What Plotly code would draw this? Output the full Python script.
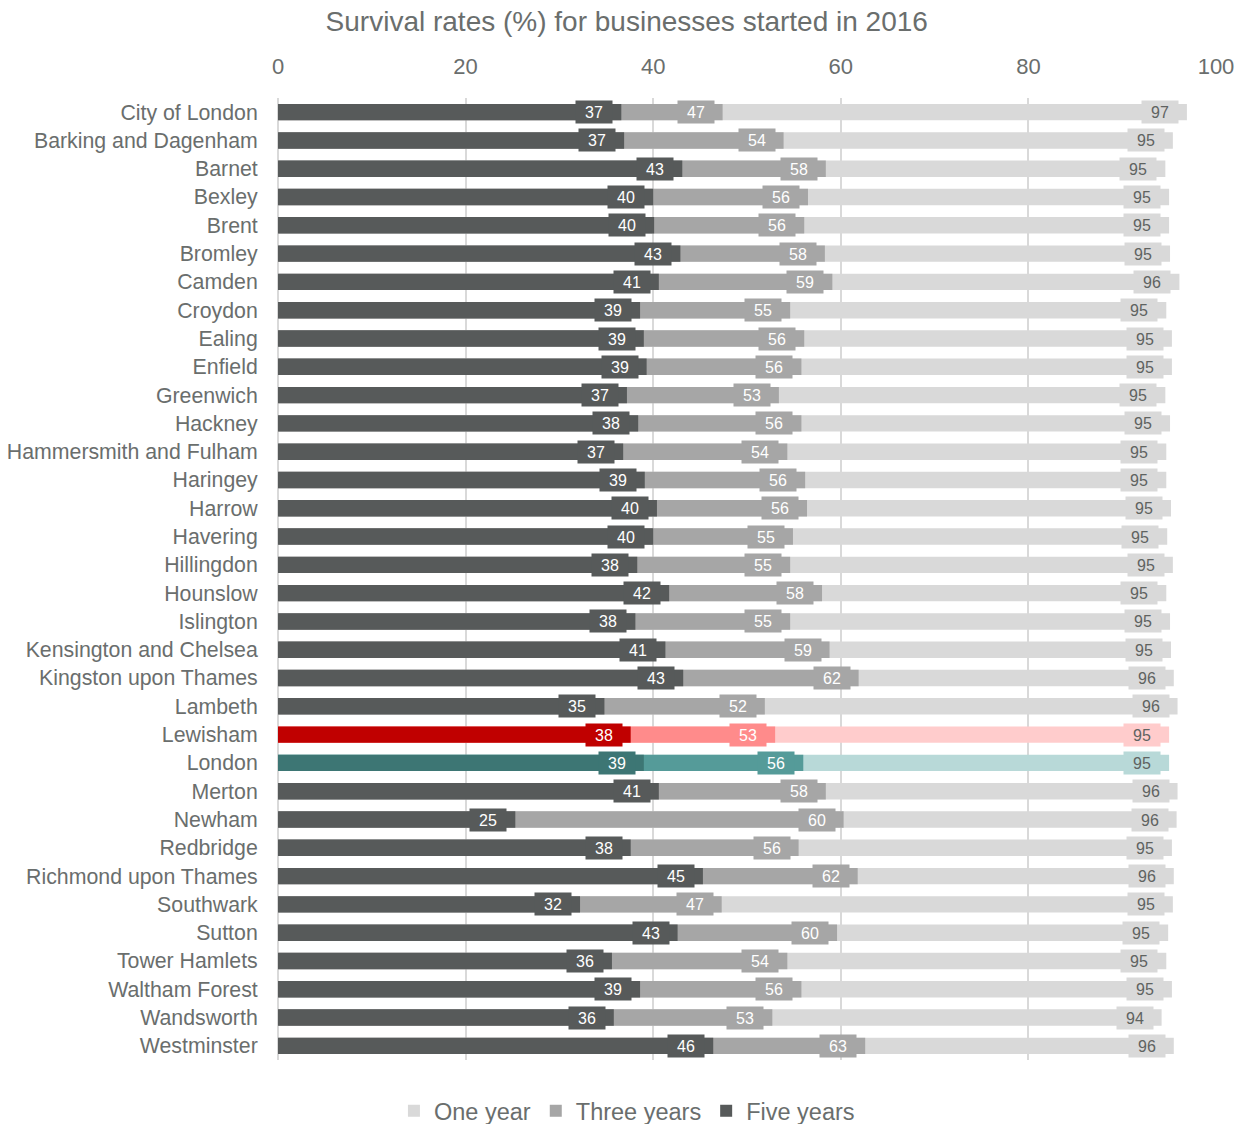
import plotly.graph_objects as go

boroughs = ["City of London", "Barking and Dagenham", "Barnet", "Bexley", "Brent", "Bromley",
            "Camden", "Croydon", "Ealing", "Enfield", "Greenwich", "Hackney",
            "Hammersmith and Fulham", "Haringey", "Harrow", "Havering", "Hillingdon",
            "Hounslow", "Islington", "Kensington and Chelsea", "Kingston upon Thames",
            "Lambeth", "Lewisham", "London", "Merton", "Newham", "Redbridge",
            "Richmond upon Thames", "Southwark", "Sutton", "Tower Hamlets",
            "Waltham Forest", "Wandsworth", "Westminster"]

one_year = [96.9, 95.4, 94.6, 95.0, 95.0, 95.1, 96.1, 94.7, 95.3, 95.3, 94.6, 95.1,
            94.7, 94.7, 95.2, 94.8, 95.4, 94.7, 95.1, 95.2, 95.5, 95.9, 95.0, 95.0,
            95.9, 95.8, 95.3, 95.5, 95.4, 94.9, 94.7, 95.3, 94.2, 95.5]
three_years = [47.4, 53.9, 58.4, 56.5, 56.1, 58.3, 59.1, 54.6, 56.1, 55.8, 53.4, 55.8,
               54.3, 56.2, 56.4, 54.9, 54.6, 58.0, 54.6, 58.8, 61.9, 51.9, 53.0, 56.0,
               58.4, 60.3, 55.5, 61.8, 47.3, 59.6, 54.3, 55.8, 52.7, 62.6]
five_years = [36.6, 36.9, 43.1, 40.0, 40.1, 42.9, 40.6, 38.6, 39.0, 39.3, 37.2, 38.4,
              36.8, 39.1, 40.4, 40.0, 38.3, 41.7, 38.1, 41.3, 43.2, 34.8, 37.6, 39.0,
              40.6, 25.3, 37.6, 45.3, 32.2, 42.6, 35.6, 38.6, 35.8, 46.4]

series_names = ["One year", "Three years", "Five years"]
base_colors = {"One year": "#d9d9d9", "Three years": "#a6a6a6", "Five years": "#575a5a"}
lewisham_colors = {"One year": "#ffcccc", "Three years": "#ff8b8b", "Five years": "#c00000"}
london_colors = {"One year": "#b8d9d8", "Three years": "#559b99", "Five years": "#3d7674"}
label_font_colors = {"One year": "#5f6361", "Three years": "#ffffff", "Five years": "#ffffff"}

values = {"One year": one_year, "Three years": three_years, "Five years": five_years}

def colors_for(name):
    out = []
    for b in boroughs:
        if b == "Lewisham":
            out.append(lewisham_colors[name])
        elif b == "London":
            out.append(london_colors[name])
        else:
            out.append(base_colors[name])
    return out

fig = go.Figure()
annotations = []
for name in series_names:
    cols = colors_for(name)
    fig.add_trace(go.Bar(
        y=boroughs, x=values[name], orientation="h", name=name,
        marker=dict(color=cols, line=dict(width=0)), width=0.58,
        hoverinfo="x+y"))
    for b, v, c in zip(boroughs, values[name], cols):
        annotations.append(dict(
            x=v, y=b, xref="x", yref="y", text=str(int(round(v))),
            showarrow=False, xanchor="right", yanchor="middle", xshift=-8,
            bgcolor=c, width=34, height=20, align="center",
            font=dict(family="Liberation Sans, Arial", size=16,
                      color=label_font_colors[name])))

font_grey = "#6a6e6d"
fig.update_layout(
    width=1246, height=1124,
    barmode="overlay",
    paper_bgcolor="white", plot_bgcolor="white",
    margin=dict(l=278, r=30, t=98, b=64, autoexpand=False),
    font=dict(family="Liberation Sans, Arial", color=font_grey, size=20),
    title=dict(text="Survival rates (%) for businesses started in 2016",
               x=0.503, xanchor="center", y=0.981, yanchor="middle",
               font=dict(size=28, color=font_grey)),
    legend=dict(orientation="h", x=0.372, xanchor="center", y=-0.053, yanchor="middle",
                font=dict(size=23.5, color=font_grey), traceorder="normal",
                itemwidth=30),
    annotations=annotations,
    showlegend=True,
)
fig.update_xaxes(range=[0, 100], side="top", dtick=20, showgrid=True,
                 gridcolor="#d9d9d9", gridwidth=1.5, zeroline=True,
                 zerolinecolor="#d9d9d9", zerolinewidth=1.5,
                 ticks="outside", ticklen=14, tickcolor="rgba(0,0,0,0)",
                 tickfont=dict(size=22, color=font_grey), showline=False)
fig.update_yaxes(autorange="reversed", showgrid=False, ticks="outside", ticklen=15,
                 tickcolor="rgba(0,0,0,0)", tickfont=dict(size=21.3, color=font_grey),
                 showline=False)

fig.write_html("out.html")
